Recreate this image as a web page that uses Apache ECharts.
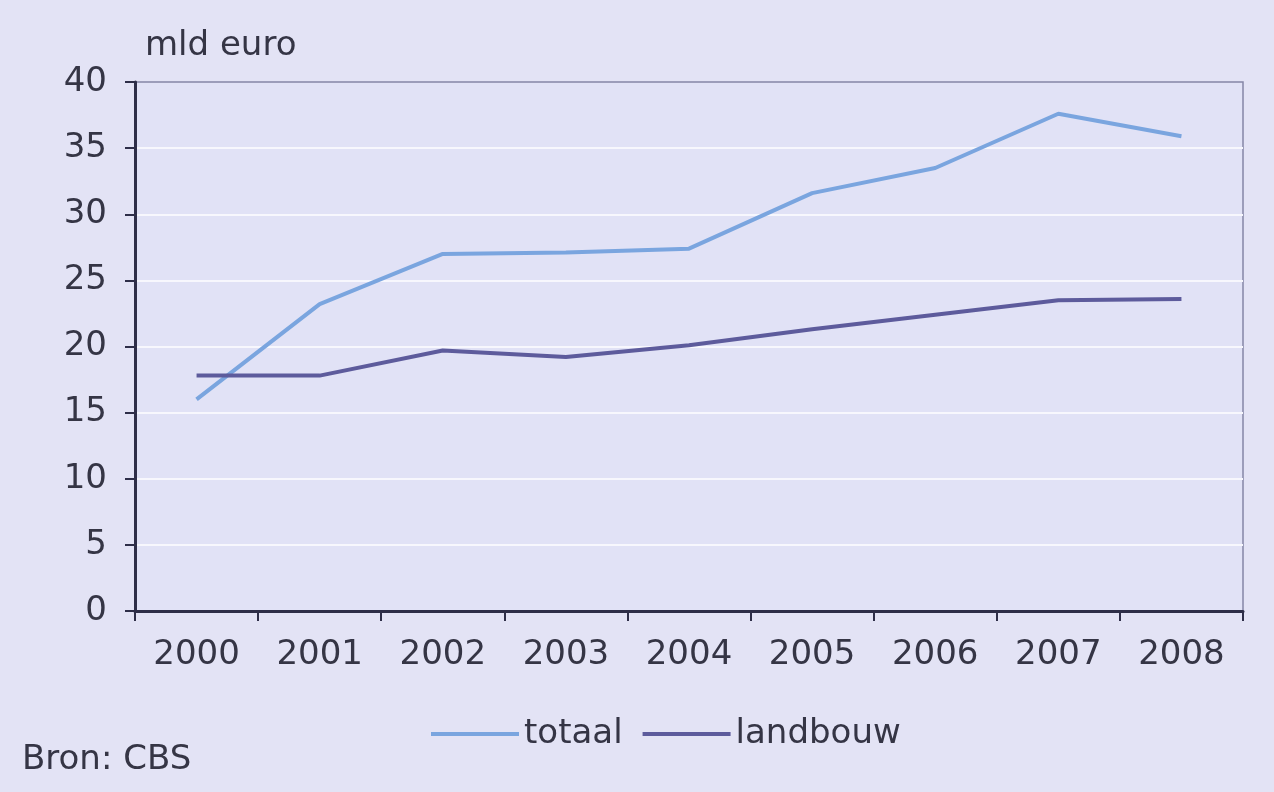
<!DOCTYPE html>
<html>
<head>
<meta charset="utf-8">
<script src="https://cdn.jsdelivr.net/npm/echarts@6/dist/echarts.min.js"></script>
<style>
  html, body { margin: 0; padding: 0; background: #e3e3f5; }
  #chart { width: 1274px; height: 792px; }
</style>
</head>
<body>
<div id="chart"></div>
<script>
// jaren op de x-as
var years = ['2000', '2001', '2002', '2003', '2004', '2005', '2006', '2007', '2008'];
// waarden in mld euro
var totaal = [16.0, 23.2, 27.0, 27.1, 27.4, 31.6, 33.5, 37.6, 35.9];
var landbouw = [17.8, 17.8, 19.7, 19.2, 20.1, 21.3, 22.4, 23.5, 23.6];

var textColor = '#353545';
var font = 'DejaVu Sans';

var myChart = echarts.init(document.getElementById('chart'));
myChart.setOption({
    backgroundColor: '#e3e3f5',
    animation: false,
    textStyle: { fontFamily: font, color: textColor },
    grid: {
        left: 135,
        right: 31,
        top: 82,
        bottom: 181,
        show: true,
        backgroundColor: '#e1e2f6',
        borderColor: '#8586a6',
        borderWidth: 1.5
    },
    legend: {
        left: 426,
        top: 712,
        icon: 'rect',
        itemWidth: 88,
        itemHeight: 4,
        itemGap: 20,
        textStyle: { fontSize: 34, color: textColor, fontFamily: font },
        data: ['totaal', 'landbouw']
    },
    graphic: [{
        type: 'text',
        left: 145,
        top: 29,
        style: { text: 'mld euro', fontSize: 34, fill: textColor, fontFamily: font }
    }, {
        type: 'text',
        left: 22,
        top: 743,
        style: { text: 'Bron: CBS', fontSize: 34, fill: textColor, fontFamily: font }
    }],
    xAxis: {
        type: 'category',
        data: years,
        boundaryGap: true,
        axisLine: { lineStyle: { color: '#2e2e48', width: 3 } },
        axisTick: { show: true, length: 10, lineStyle: { color: '#2e2e48', width: 2 } },
        axisLabel: { fontSize: 34, color: textColor, margin: 27, fontFamily: font },
        splitLine: { show: false }
    },
    yAxis: {
        type: 'value',
        min: 0,
        max: 40,
        interval: 5,
        axisLine: { show: true, lineStyle: { color: '#2e2e48', width: 3 } },
        axisTick: { show: true, length: 10, lineStyle: { color: '#2e2e48', width: 2 } },
        axisLabel: { fontSize: 34, color: textColor, margin: 28, fontFamily: font },
        splitLine: {
            show: true,
            showMinLine: false,
            showMaxLine: false,
            lineStyle: { color: '#f7f7fd', width: 2 }
        }
    },
    series: [{
        name: 'totaal',
        type: 'line',
        data: totaal,
        symbol: 'none',
        lineStyle: { color: '#7aa5df', width: 4 },
        itemStyle: { color: '#7aa5df' }
    }, {
        name: 'landbouw',
        type: 'line',
        data: landbouw,
        symbol: 'none',
        lineStyle: { color: '#5d5b9c', width: 4 },
        itemStyle: { color: '#5d5b9c' }
    }]
});
</script>
</body>
</html>
